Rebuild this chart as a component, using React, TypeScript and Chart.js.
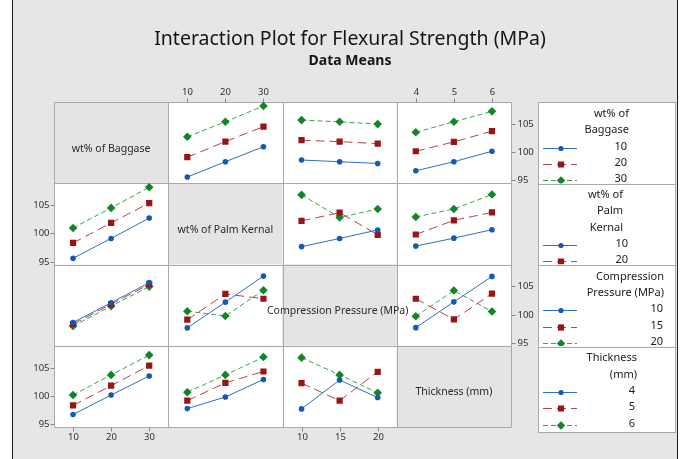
import React, { useEffect, useRef } from 'react';
import { Chart, registerables } from 'chart.js';

Chart.register(...registerables);

const W = 681;
const H = 459;
const FONT = '"Noto Sans", "Open Sans", sans-serif';

// ---- text ----
const mainTitle = 'Interaction Plot for Flexural Strength (MPa)';
const subTitle = 'Data Means';
const factorLabels = ['wt% of Baggase', 'wt% of Palm Kernal', 'Compression Pressure (MPa)', 'Thickness (mm)'];
const legendTitles = [['wt% of', 'Baggase'], ['wt% of', 'Palm', 'Kernal'], ['Compression', 'Pressure (MPa)'], ['Thickness', '(mm)']];

// ---- factor levels (x categories / legend entries) ----
const bagLevels = ['10', '20', '30'];
const palmLevels = ['10', '20', '30'];
const pressLevels = ['10', '15', '20'];
const thickLevels = ['4', '5', '6'];
const factorLevels = [bagLevels, palmLevels, pressLevels, thickLevels];

// ---- y axis ----
const yTickValues = [95, 100, 105];
const yMin = 94.5;
const yMax = 108.85;

// ---- data means: each inner list = one level of the ROW factor (line), across the COLUMN factor levels (x) ----
const bagByPalm = [[95.6, 98.3, 100.95], [99.1, 101.85, 104.5], [102.7, 105.35, 108.15]];
const bagByPress = [[98.6, 98.3, 98.0], [102.1, 101.85, 101.5], [105.65, 105.35, 104.95]];
const bagByThick = [[96.7, 98.3, 100.15], [100.15, 101.8, 103.7], [103.5, 105.35, 107.2]];

const palmByBag = [[95.6, 99.1, 102.7], [98.3, 101.85, 105.35], [100.95, 104.5, 108.15]];
const palmByPress = [[97.65, 99.1, 100.6], [102.2, 103.65, 99.75], [106.8, 102.8, 104.3]];
const palmByThick = [[97.75, 99.15, 100.65], [99.8, 102.3, 103.7], [102.9, 104.3, 106.85]];

const pressByBag = [[98.6, 102.1, 105.65], [98.3, 101.85, 105.35], [98.0, 101.5, 104.95]];
const pressByPalm = [[97.65, 102.2, 106.8], [99.1, 103.65, 102.8], [100.6, 99.75, 104.3]];
const pressByThick = [[97.7, 102.25, 106.75], [102.8, 99.15, 103.7], [99.7, 104.25, 100.55]];

const thickByBag = [[96.7, 100.15, 103.5], [98.3, 101.8, 105.35], [100.15, 103.7, 107.2]];
const thickByPalm = [[97.75, 99.8, 102.9], [99.15, 102.3, 104.3], [100.65, 103.7, 106.85]];
const thickByPress = [[97.7, 102.8, 99.7], [102.25, 99.15, 104.25], [106.75, 103.7, 100.55]];

const panels = [
  { row: 0, col: 1, values: bagByPalm },
  { row: 0, col: 2, values: bagByPress },
  { row: 0, col: 3, values: bagByThick },
  { row: 1, col: 0, values: palmByBag },
  { row: 1, col: 2, values: palmByPress },
  { row: 1, col: 3, values: palmByThick },
  { row: 2, col: 0, values: pressByBag },
  { row: 2, col: 1, values: pressByPalm },
  { row: 2, col: 3, values: pressByThick },
  { row: 3, col: 0, values: thickByBag },
  { row: 3, col: 1, values: thickByPalm },
  { row: 3, col: 2, values: thickByPress },
];

// ---- styles ----
const seriesStyles = [
  { line: '#2f6fc0', marker: '#1459b3', dash: [] as number[], point: 'circle', radius: 2.8, legendR: 2.6 },
  { line: '#b84444', marker: '#981515', dash: [9, 5], point: 'rect', radius: 4.4, legendR: 3.1 },
  { line: '#3aa34b', marker: '#12852a', dash: [5, 3], point: 'rectRot', radius: 4.3, legendR: 4.2 },
];
const xTickSide = ['bottom', 'top', 'bottom', 'top'];
const yTickSide = ['right', 'left', 'right', 'left'];

// legend boxes: top, bottom, first text line y, title right edge, value right edge
const legendBoxes = [
  { top: 102, bottom: 184, firstY: 114, titleRight: 629, valueRight: 627 },
  { top: 184, bottom: 265, firstY: 195, titleRight: 623, valueRight: 628 },
  { top: 265, bottom: 346.5, firstY: 276.7, titleRight: 664, valueRight: 663 },
  { top: 346.5, bottom: 432, firstY: 358.3, titleRight: 637, valueRight: 635 },
];
const LEG_LEFT = 538;
const LEG_RIGHT = 675;
const LEG_STEP = 16.3;

function drawMarker(ctx: CanvasRenderingContext2D, style: string, x: number, y: number, r: number, color: string) {
  ctx.fillStyle = color;
  ctx.beginPath();
  if (style === 'circle') ctx.arc(x, y, r, 0, Math.PI * 2);
  else if (style === 'rect') ctx.rect(x - r, y - r, 2 * r, 2 * r);
  else {
    ctx.moveTo(x, y - r);
    ctx.lineTo(x + r, y);
    ctx.lineTo(x, y + r);
    ctx.lineTo(x - r, y);
    ctx.closePath();
  }
  ctx.fill();
}

const framePlugin = {
  id: 'matrixFrame',
  beforeDraw(chart: any) {
    const ctx: CanvasRenderingContext2D = chart.ctx;
    const xs = [0, 1, 2, 3].map((c) => chart.scales['x' + c]);
    const ys = [0, 1, 2, 3].map((r) => chart.scales['y' + r]);
    ctx.save();
    // page
    ctx.fillStyle = '#ffffff';
    ctx.fillRect(0, 0, W, H);
    ctx.fillStyle = '#e6e6e6';
    ctx.fillRect(12, 0, 666, H);
    ctx.strokeStyle = '#1e1e1e';
    ctx.lineWidth = 1;
    ctx.beginPath();
    ctx.moveTo(12.5, 0);
    ctx.lineTo(12.5, H);
    ctx.moveTo(677.5, 0);
    ctx.lineTo(677.5, H);
    ctx.stroke();

    // title
    ctx.fillStyle = '#151515';
    ctx.textAlign = 'center';
    ctx.textBaseline = 'middle';
    ctx.font = '19.5px ' + FONT;
    ctx.fillText(mainTitle, 350, 39.5);
    ctx.font = 'bold 14px ' + FONT;
    ctx.fillText(subTitle, 350, 61.5);

    // cells
    for (let r = 0; r < 4; r++) {
      for (let c = 0; c < 4; c++) {
        ctx.fillStyle = r === c ? '#e4e4e4' : '#ffffff';
        ctx.fillRect(xs[c].left, ys[r].top, xs[c].width, ys[r].height);
      }
    }
    ctx.strokeStyle = '#a9a9a9';
    ctx.beginPath();
    const left = Math.round(xs[0].left) + 0.5;
    const right = Math.round(xs[3].right) + 0.5;
    const top = Math.round(ys[0].top) + 0.5;
    const bottom = Math.round(ys[3].bottom) + 0.5;
    for (let c = 0; c < 4; c++) {
      const x = Math.round(xs[c].left) + 0.5;
      ctx.moveTo(x, top);
      ctx.lineTo(x, bottom);
    }
    ctx.moveTo(right, top);
    ctx.lineTo(right, bottom);
    for (let r = 0; r < 4; r++) {
      const y = Math.round(ys[r].top) + 0.5;
      ctx.moveTo(left, y);
      ctx.lineTo(right, y);
    }
    ctx.moveTo(left, bottom);
    ctx.lineTo(right, bottom);
    ctx.stroke();

    // ticks
    ctx.strokeStyle = '#8a8a8a';
    ctx.fillStyle = '#303030';
    ctx.font = '9.5px ' + FONT;
    ctx.beginPath();
    for (let c = 0; c < 4; c++) {
      const sc = xs[c];
      const levels = factorLevels[c];
      const isTop = xTickSide[c] === 'top';
      const y0 = isTop ? top : bottom;
      levels.forEach((lab, i) => {
        const x = Math.round(sc.getPixelForValue(i)) + 0.5;
        ctx.moveTo(x, y0);
        ctx.lineTo(x, isTop ? y0 - 4 : y0 + 4);
        ctx.textAlign = 'center';
        ctx.textBaseline = 'middle';
        ctx.fillText(lab, x, isTop ? 92.5 : 437.5);
      });
    }
    for (let r = 0; r < 4; r++) {
      const sc = ys[r];
      const isLeft = yTickSide[r] === 'left';
      const x0 = isLeft ? left : right;
      yTickValues.forEach((v) => {
        const y = Math.round(sc.getPixelForValue(v)) + 0.5;
        ctx.moveTo(x0, y);
        ctx.lineTo(isLeft ? x0 - 4 : x0 + 4, y);
        ctx.textAlign = isLeft ? 'right' : 'left';
        ctx.textBaseline = 'middle';
        ctx.fillText(String(v), isLeft ? x0 - 5 : x0 + 6, y);
      });
    }
    ctx.stroke();

    // diagonal labels
    ctx.fillStyle = '#2a2a2a';
    ctx.font = '10.5px ' + FONT;
    ctx.textAlign = 'center';
    ctx.textBaseline = 'middle';
    for (let d = 0; d < 4; d++) {
      const cx = (xs[d].left + xs[d].right) / 2 - (d === 2 ? 2 : 0);
      const cy = (ys[d].top + ys[d].bottom) / 2 + 6;
      ctx.fillText(factorLabels[d], cx, cy);
    }

    // legends
    legendBoxes.forEach((b, k) => {
      ctx.save();
      ctx.fillStyle = '#ffffff';
      ctx.fillRect(LEG_LEFT, b.top, LEG_RIGHT - LEG_LEFT, b.bottom - b.top);
      ctx.strokeStyle = '#a9a9a9';
      ctx.lineWidth = 1;
      ctx.strokeRect(LEG_LEFT + 0.5, Math.round(b.top) + 0.5, LEG_RIGHT - LEG_LEFT, Math.round(b.bottom) - Math.round(b.top));
      ctx.beginPath();
      ctx.rect(LEG_LEFT + 1, b.top + 1, LEG_RIGHT - LEG_LEFT - 1, b.bottom - b.top - 1.5);
      ctx.clip();
      ctx.font = '11px ' + FONT;
      ctx.fillStyle = '#202020';
      ctx.textBaseline = 'middle';
      ctx.textAlign = 'right';
      const titles = legendTitles[k];
      titles.forEach((t, i) => ctx.fillText(t, b.titleRight, b.firstY + i * LEG_STEP));
      factorLevels[k].forEach((lab, i) => {
        const y = b.firstY + (titles.length + i) * LEG_STEP;
        const st = seriesStyles[i];
        ctx.fillStyle = '#202020';
        ctx.fillText(lab, b.valueRight, y);
        const ly = Math.round(y + 1) + 0.5;
        ctx.strokeStyle = st.line;
        ctx.setLineDash(st.dash);
        ctx.beginPath();
        ctx.moveTo(543, ly);
        ctx.lineTo(577, ly);
        ctx.stroke();
        ctx.setLineDash([]);
        drawMarker(ctx, st.point, 561, ly, st.legendR, st.marker);
      });
      ctx.restore();
    });

    ctx.restore();
  },
};

export default function App() {
  const ref = useRef<HTMLCanvasElement>(null);
  useEffect(() => {
    const canvas = ref.current;
    if (!canvas) return;
    const datasets: any[] = [];
    panels.forEach((p) => {
      p.values.forEach((vals, k) => {
        const st = seriesStyles[k];
        datasets.push({
          label: factorLabels[p.row] + ' = ' + factorLevels[p.row][k],
          data: vals,
          xAxisID: 'x' + p.col,
          yAxisID: 'y' + p.row,
          borderColor: st.line,
          borderWidth: 1,
          borderDash: st.dash,
          backgroundColor: st.marker,
          pointBackgroundColor: st.marker,
          pointBorderColor: st.marker,
          pointBorderWidth: 0,
          pointStyle: st.point,
          pointRadius: st.radius,
          tension: 0,
          fill: false,
        });
      });
    });
    const scales: any = {};
    for (let c = 0; c < 4; c++) {
      scales['x' + c] = {
        type: 'category',
        axis: 'x',
        labels: factorLevels[c],
        offset: true,
        position: 'bottom',
        stack: 'cols',
        stackWeight: 1,
        weight: c,
        display: false,
      };
    }
    for (let r = 0; r < 4; r++) {
      scales['y' + r] = {
        type: 'linear',
        axis: 'y',
        min: yMin,
        max: yMax,
        position: 'right',
        stack: 'rows',
        stackWeight: 1,
        weight: r,
        display: false,
      };
    }
    const chart = new Chart(canvas, {
      type: 'line',
      data: { datasets },
      options: {
        responsive: false,
        animation: false,
        devicePixelRatio: 1,
        events: [],
        layout: { padding: { left: 54, top: 102, right: W - 511, bottom: H - 427 } },
        scales,
        plugins: {
          legend: { display: false },
          tooltip: { enabled: false },
          title: { display: false },
        },
      } as any,
      plugins: [framePlugin],
    });
    return () => chart.destroy();
  }, []);
  return (
    <div style={{ position: 'absolute', left: 0, top: 0, width: W, height: H }}>
      <canvas ref={ref} width={W} height={H} style={{ display: 'block' }} />
    </div>
  );
}
